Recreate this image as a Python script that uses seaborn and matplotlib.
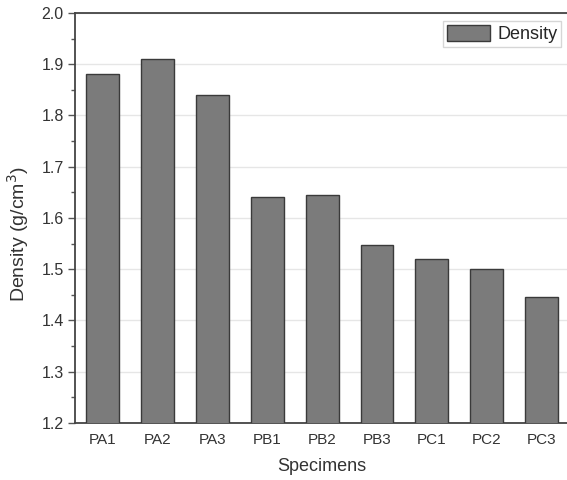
import matplotlib
matplotlib.use("Agg")
import matplotlib.pyplot as plt
from matplotlib.ticker import MultipleLocator
import pandas as pd
import seaborn as sns

specimens = ["PA1", "PA2", "PA3", "PB1", "PB2", "PB3", "PC1", "PC2", "PC3"]
density = [1.88, 1.91, 1.84, 1.641, 1.644, 1.547, 1.519, 1.50, 1.446]

df = pd.DataFrame({"Specimens": specimens, "Density": density})

sns.set_style("white")
plt.rcParams["font.family"] = ["Liberation Sans", "DejaVu Sans"]

fig = plt.figure(figsize=(5.67, 4.8), dpi=100)
# axes run slightly past the right edge, the right spine is cut off like in the original
ax = fig.add_axes([0.132, 0.119, 0.872, 0.854])

sns.barplot(data=df, x="Specimens", y="Density", color="#7b7b7b",
            edgecolor="#3a3a3a", linewidth=1.0, width=0.6, saturation=1,
            label="Density", ax=ax, zorder=3)

ax.set_ylim(1.2, 2.0)
ax.set_xlim(-0.5, 8.5)
ax.yaxis.set_major_locator(MultipleLocator(0.1))
ax.yaxis.set_minor_locator(MultipleLocator(0.05))
ax.yaxis.grid(True, which="major", color="#e6e6e6", linewidth=1.0, zorder=0)
ax.set_axisbelow(True)

ax.tick_params(axis="y", which="major", direction="out", length=5, width=1,
               color="#555555", labelsize=11.5, labelcolor="#333333", left=True, pad=3)
ax.tick_params(axis="y", which="minor", direction="out", length=3, width=1,
               color="#555555", left=True)
ax.tick_params(axis="x", length=0, labelsize=11, labelcolor="#333333", pad=7)
ax.set_yticklabels([f"{v:.1f}" for v in ax.get_yticks()])

for side in ["left", "bottom", "top", "right"]:
    ax.spines[side].set_visible(True)
    ax.spines[side].set_color("#444444")
    ax.spines[side].set_linewidth(1.3)

ax.set_xlabel("Specimens", fontsize=13, color="#333333", labelpad=8)
ax.set_ylabel("Density (g/cm$^3$)", fontsize=14, color="#333333")
ax.yaxis.set_label_coords(-0.088, 0.46)

leg = ax.legend(loc="upper right", fontsize=13, frameon=True, fancybox=False,
                borderaxespad=0.45, handlelength=2.4, handleheight=1.0,
                borderpad=0.2, handletextpad=0.4)
leg.get_frame().set_edgecolor("#cccccc")
leg.get_frame().set_linewidth(1.0)

fig.savefig("out.png", dpi=100)
